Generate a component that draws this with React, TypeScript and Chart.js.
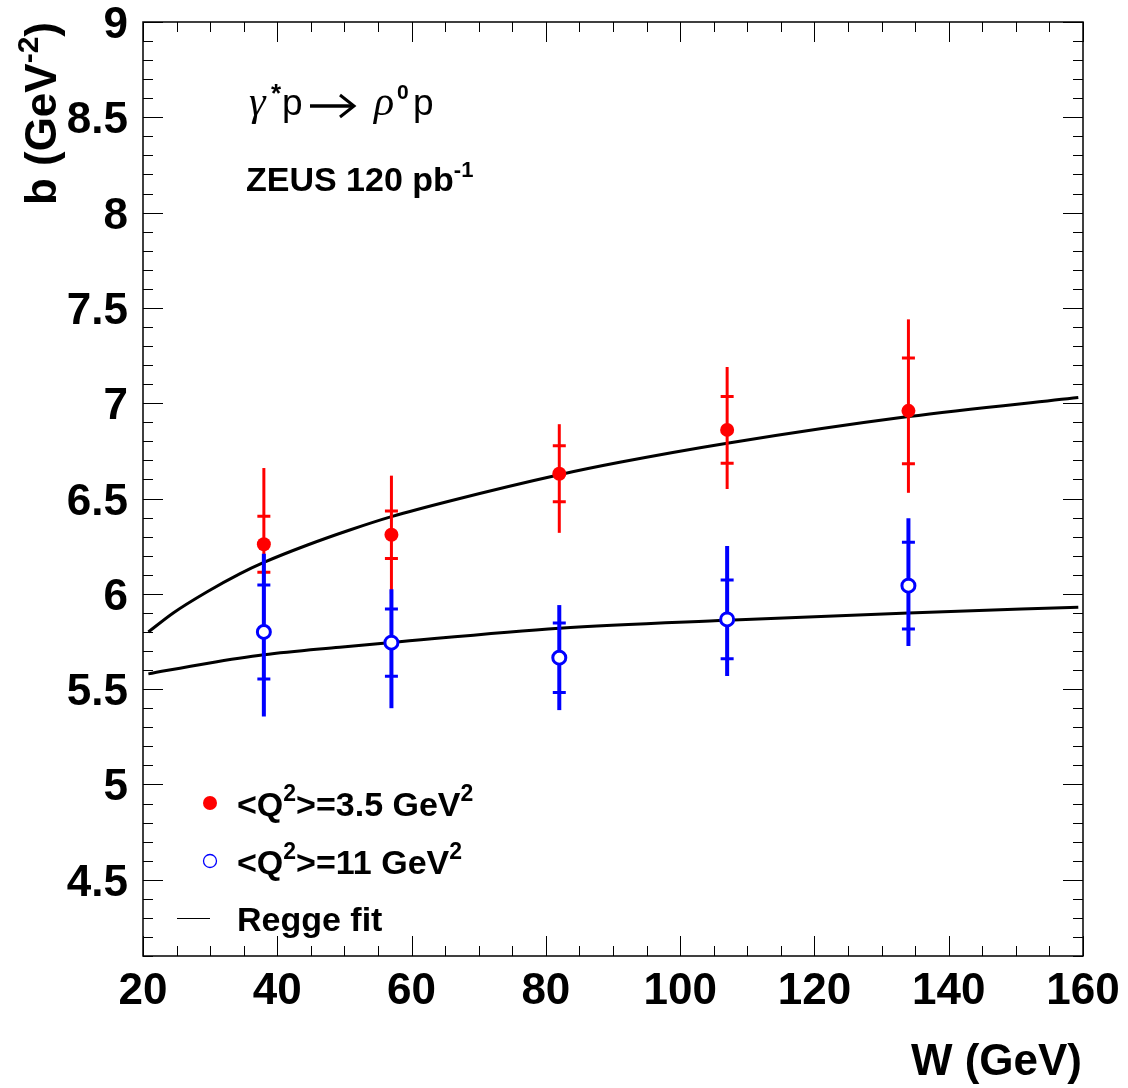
import React, { useEffect, useRef } from "react";
import { Chart, registerables } from "chart.js";
Chart.register(...registerables);

// ---- data ----
const W_VALUES = [38, 57, 82, 107, 134];

const B_Q35 = [6.26, 6.31, 6.63, 6.86, 6.96];
const STAT_Q35 = [0.147, 0.124, 0.147, 0.175, 0.277];
const TOT_UP_Q35 = [0.40, 0.31, 0.26, 0.33, 0.48];
const TOT_DN_Q35 = [0.40, 0.31, 0.31, 0.31, 0.43];

const B_Q11 = [5.80, 5.744, 5.665, 5.866, 6.043];
const STAT_Q11 = [0.247, 0.177, 0.182, 0.206, 0.228];
const TOT_UP_Q11 = [0.41, 0.28, 0.276, 0.385, 0.353];
const TOT_DN_Q11 = [0.444, 0.344, 0.275, 0.297, 0.317];

const FIT_W_Q35 = [20.8, 24.5, 29.5, 34.4, 38, 44.4, 50.8, 57, 66, 82, 91, 107, 134, 159.3];
const FIT_B_Q35 = [5.80, 5.90, 6.01, 6.105, 6.165, 6.255, 6.335, 6.405, 6.49, 6.625, 6.69, 6.79, 6.93, 7.03];
const FIT_W_Q11 = [20.8, 29.5, 38, 49.3, 57, 82, 107, 134, 159.3];
const FIT_B_Q11 = [5.58, 5.635, 5.68, 5.72, 5.745, 5.82, 5.862, 5.90, 5.93];

const X_TICKS = [20, 40, 60, 80, 100, 120, 140, 160];
const Y_TICKS = [4.5, 5, 5.5, 6, 6.5, 7, 7.5, 8, 8.5, 9];
const X_MIN = 20;
const X_MAX = 160;
const Y_MIN = 4.1;
const Y_MAX = 9;
const X_MINOR_STEP = 5;
const Y_MINOR_STEP = 0.1;

const RED = "#ff0000";
const BLUE = "#0000ff";
const SANS = "'Liberation Sans', Arial, Helvetica, sans-serif";
const SERIF = "'Liberation Serif', 'DejaVu Serif', serif";

type Run = { text: string; font: string; dy?: number; dx?: number };

function drawRuns(ctx: CanvasRenderingContext2D, runs: Run[], x: number, y: number, align: "left" | "right" = "left") {
  ctx.textAlign = "left";
  ctx.textBaseline = "alphabetic";
  let total = 0;
  for (const r of runs) {
    ctx.font = r.font;
    total += ctx.measureText(r.text).width + (r.dx || 0);
  }
  let cx = align === "right" ? x - total : x;
  for (const r of runs) {
    ctx.font = r.font;
    cx += r.dx || 0;
    ctx.fillText(r.text, cx, y + (r.dy || 0));
    cx += ctx.measureText(r.text).width;
  }
}

function drawErrorBars(chart: any, ys: number[], stat: number[], up: number[], dn: number[], color: string, lw: number) {
  const ctx: CanvasRenderingContext2D = chart.ctx;
  const xs = chart.scales.x;
  const yS = chart.scales.y;
  ctx.save();
  ctx.strokeStyle = color;
  ctx.lineCap = "butt";
  for (let i = 0; i < W_VALUES.length; i++) {
    const px = xs.getPixelForValue(W_VALUES[i]);
    const yTop = yS.getPixelForValue(ys[i] + up[i]);
    const yBot = yS.getPixelForValue(ys[i] - dn[i]);
    ctx.lineWidth = lw;
    ctx.beginPath();
    ctx.moveTo(px, yTop);
    ctx.lineTo(px, yBot);
    ctx.stroke();
    const s1 = yS.getPixelForValue(ys[i] + stat[i]);
    const s2 = yS.getPixelForValue(ys[i] - stat[i]);
    ctx.lineWidth = 3;
    ctx.beginPath();
    ctx.moveTo(px - 6.5, s1);
    ctx.lineTo(px + 6.5, s1);
    ctx.moveTo(px - 6.5, s2);
    ctx.lineTo(px + 6.5, s2);
    ctx.stroke();
  }
  ctx.restore();
}

const decorPlugin = {
  id: "decor",
  beforeDatasetDraw(chart: any, args: any) {
    if (args.index === 2) drawErrorBars(chart, B_Q35, STAT_Q35, TOT_UP_Q35, TOT_DN_Q35, RED, 3);
    if (args.index === 3) drawErrorBars(chart, B_Q11, STAT_Q11, TOT_UP_Q11, TOT_DN_Q11, BLUE, 4);
  },
  afterDraw(chart: any) {
    const ctx: CanvasRenderingContext2D = chart.ctx;
    const { left, right, top, bottom } = chart.chartArea;
    const xs = chart.scales.x;
    const ys = chart.scales.y;
    ctx.save();
    ctx.fillStyle = "#000";
    ctx.strokeStyle = "#000";

    // ticks
    ctx.lineWidth = 1;
    ctx.beginPath();
    for (let k = 0; ; k++) {
      const v = X_MIN + k * X_MINOR_STEP;
      if (v > X_MAX + 1e-6) break;
      const major = X_TICKS.some((t) => Math.abs(t - v) < 1e-6);
      const len = major ? 20 : 10;
      const px = Math.round(xs.getPixelForValue(v)) + 0.5;
      ctx.moveTo(px, bottom);
      ctx.lineTo(px, bottom - len);
      ctx.moveTo(px, top);
      ctx.lineTo(px, top + len);
    }
    for (let k = 0; ; k++) {
      const v = Y_MIN + k * Y_MINOR_STEP;
      if (v > Y_MAX + 1e-6) break;
      const major = Y_TICKS.some((t) => Math.abs(t - v) < 1e-6);
      const len = major ? 20 : 10;
      const py = Math.round(ys.getPixelForValue(v)) + 0.5;
      ctx.moveTo(left, py);
      ctx.lineTo(left + len, py);
      ctx.moveTo(right, py);
      ctx.lineTo(right - len, py);
    }
    ctx.stroke();

    // frame
    ctx.lineWidth = 1.5;
    ctx.strokeRect(left, top, right - left, bottom - top);

    // tick labels
    ctx.font = `bold 44px ${SANS}`;
    ctx.textBaseline = "alphabetic";
    ctx.textAlign = "center";
    for (const t of X_TICKS) {
      ctx.fillText(String(t), xs.getPixelForValue(t), bottom + 48);
    }
    ctx.textAlign = "right";
    for (const t of Y_TICKS) {
      ctx.fillText(String(t), left - 15, ys.getPixelForValue(t) + 16);
    }

    // axis titles
    drawRuns(ctx, [{ text: "W (GeV)", font: `bold 44px ${SANS}` }], right - 1, bottom + 119, "right");
    ctx.save();
    ctx.translate(56, top);
    ctx.rotate(-Math.PI / 2);
    drawRuns(
      ctx,
      [
        { text: "b (GeV", font: `bold 44px ${SANS}` },
        { text: "-2", font: `bold 30px ${SANS}`, dy: -18 },
        { text: ")", font: `bold 44px ${SANS}` },
      ],
      0,
      0,
      "right"
    );
    ctx.restore();

    // reaction label
    drawRuns(ctx, [{ text: "γ", font: `italic 42px ${SERIF}` }], 249, 115);
    drawRuns(ctx, [{ text: "*", font: `bold 26px ${SANS}` }], 271, 102);
    drawRuns(ctx, [{ text: "p", font: `37px ${SANS}` }], 282, 115);
    ctx.lineWidth = 3.5;
    ctx.beginPath();
    ctx.moveTo(310, 106);
    ctx.lineTo(352, 106);
    ctx.stroke();
    ctx.lineWidth = 3;
    ctx.beginPath();
    ctx.moveTo(340, 95);
    ctx.lineTo(354, 106);
    ctx.lineTo(340, 117);
    ctx.stroke();
    drawRuns(ctx, [{ text: "ρ", font: `italic 42px ${SERIF}` }], 374, 115);
    drawRuns(ctx, [{ text: "0", font: `bold 21px ${SANS}` }], 397, 99);
    drawRuns(ctx, [{ text: "p", font: `37px ${SANS}` }], 413, 115);

    drawRuns(
      ctx,
      [
        { text: "ZEUS 120 pb", font: `bold 34px ${SANS}` },
        { text: "-1", font: `bold 22px ${SANS}`, dy: -14 },
      ],
      246,
      191
    );

    // legend
    ctx.fillStyle = RED;
    ctx.beginPath();
    ctx.arc(210, 803, 7, 0, Math.PI * 2);
    ctx.fill();
    ctx.strokeStyle = BLUE;
    ctx.lineWidth = 1.3;
    ctx.beginPath();
    ctx.arc(210, 861, 6.5, 0, Math.PI * 2);
    ctx.stroke();
    ctx.strokeStyle = "#000";
    ctx.lineWidth = 1;
    ctx.beginPath();
    ctx.moveTo(177, 918.5);
    ctx.lineTo(210, 918.5);
    ctx.stroke();
    ctx.fillStyle = "#000";
    const lf = `bold 34px ${SANS}`;
    const sf = `bold 23px ${SANS}`;
    drawRuns(ctx, [
      { text: "<Q", font: lf },
      { text: "2", font: sf, dy: -15 },
      { text: ">=3.5 GeV", font: lf },
      { text: "2", font: sf, dy: -15 },
    ], 237, 816);
    drawRuns(ctx, [
      { text: "<Q", font: lf },
      { text: "2", font: sf, dy: -15 },
      { text: ">=11 GeV", font: lf },
      { text: "2", font: sf, dy: -15 },
    ], 237, 874);
    drawRuns(ctx, [{ text: "Regge fit", font: lf }], 237, 931);

    ctx.restore();
  },
};

export default function App() {
  const ref = useRef<HTMLCanvasElement>(null);
  useEffect(() => {
    const canvas = ref.current!;
    const chart = new Chart(canvas, {
      type: "scatter",
      data: {
        datasets: [
          {
            label: "Regge fit 3.5",
            data: FIT_W_Q35.map((w, i) => ({ x: w, y: FIT_B_Q35[i] })),
            showLine: true,
            borderColor: "#000",
            borderWidth: 3,
            pointRadius: 0,
            cubicInterpolationMode: "monotone",
            order: 3,
          },
          {
            label: "Regge fit 11",
            data: FIT_W_Q11.map((w, i) => ({ x: w, y: FIT_B_Q11[i] })),
            showLine: true,
            borderColor: "#000",
            borderWidth: 3,
            pointRadius: 0,
            cubicInterpolationMode: "monotone",
            order: 2,
          },
          {
            label: "<Q2>=3.5 GeV2",
            data: W_VALUES.map((w, i) => ({ x: w, y: B_Q35[i] })),
            showLine: false,
            pointStyle: "circle",
            pointRadius: 7,
            pointBackgroundColor: RED,
            pointBorderColor: RED,
            pointBorderWidth: 0,
            order: 1,
          },
          {
            label: "<Q2>=11 GeV2",
            data: W_VALUES.map((w, i) => ({ x: w, y: B_Q11[i] })),
            showLine: false,
            pointStyle: "circle",
            pointRadius: 6.5,
            pointBackgroundColor: "#fff",
            pointBorderColor: BLUE,
            pointBorderWidth: 3,
            order: 0,
          },
        ],
      } as any,
      options: {
        responsive: false,
        maintainAspectRatio: false,
        animation: false,
        events: [],
        layout: { padding: { left: 143, top: 22, right: 45, bottom: 132 } },
        scales: {
          x: { type: "linear", min: X_MIN, max: X_MAX, display: false },
          y: { type: "linear", min: Y_MIN, max: Y_MAX, display: false },
        },
        plugins: { legend: { display: false }, tooltip: { enabled: false } },
      } as any,
      plugins: [decorPlugin as any],
    });
    return () => chart.destroy();
  }, []);
  return (
    <div style={{ position: "fixed", left: 0, top: 0, width: 1128, height: 1088, background: "#fff" }}>
      <canvas ref={ref} width={1128} height={1088} style={{ display: "block", width: 1128, height: 1088 }} />
    </div>
  );
}
